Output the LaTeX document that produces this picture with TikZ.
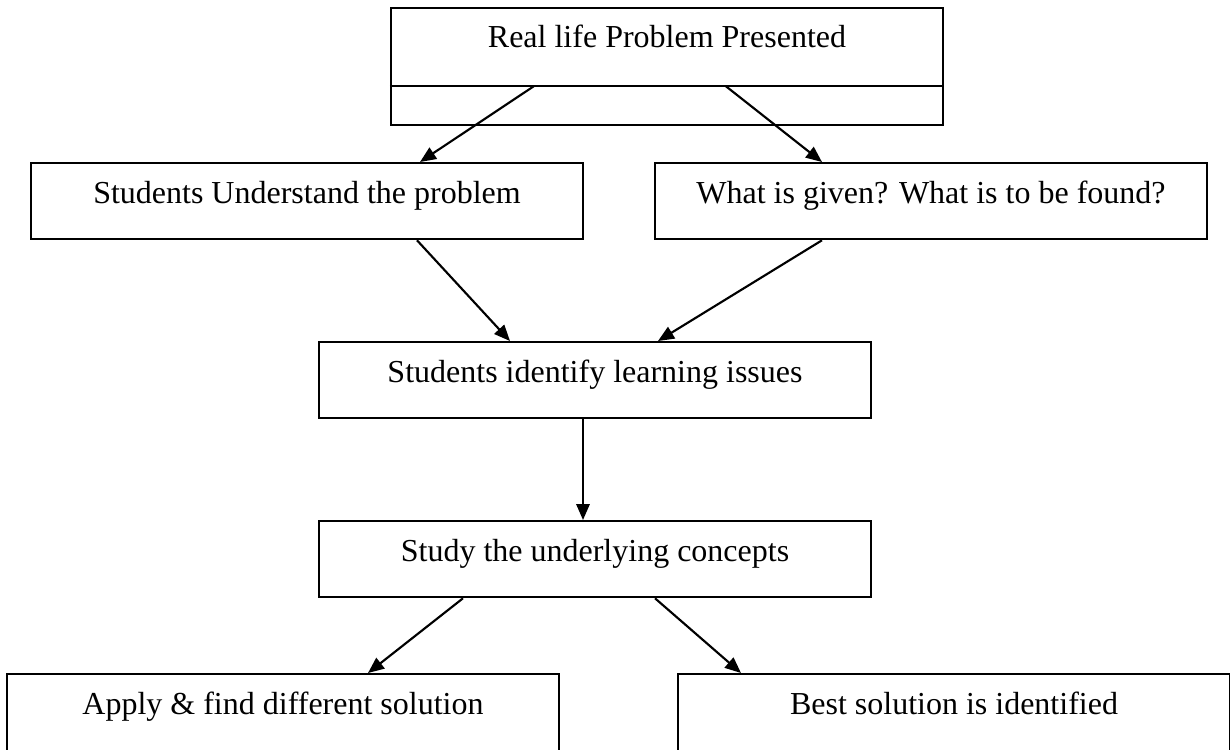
\documentclass[tikz,border=0pt]{standalone}
\usepackage{fontspec}
\setmainfont{Liberation Serif}
\usetikzlibrary{arrows.meta,calc}
\tikzset{
	box/.style={shape=rectangle,draw=black,line width=0.85pt,minimum width=207pt,inner sep=0pt,anchor=north,text height=15pt,text depth=13.5pt,font=\fontsize{12pt}{14pt}\selectfont},
	arrow/.style={draw=black,line width=0.8pt,-{Triangle[length=6pt,width=5pt]}}
}
\begin{document}
\begin{tikzpicture}[x=0.375pt,y=-0.375pt]
	\useasboundingbox (0,0) rectangle (1230,749);
	\clip (0,0) rectangle (1230,749);
	\node[box,text height=14.6pt,text depth=29.25pt] (P) at (667,7) {Real life Problem Presented};
	\node[box] (U) at (307,162) {Students Understand the problem};
	\node[box] (G) at (931,162) {What is given? What is to be found?};
	\node[box] (I) at (595,341) {Students identify learning issues};
	\node[box] (S) at (595,520) {Study the underlying concepts};
	\node[box,text depth=15pt] (A) at (283,673) {Apply \& find different solution};
	\node[box,text depth=15pt] (B) at (954,673) {Best solution is identified};
	
	\coordinate (PL) at ($(P.south west)+(0,-40)$);
	\coordinate (PR) at ($(P.south east)+(0,-40)$);
	\coordinate (P1) at ($(PL)+(144,0)$);
	\coordinate (P2) at ($(PL)+(336,0)$);
	\draw[line width=0.85pt] (PL) -- (PR);
	
	\path (P1) edge[arrow] ($(U.north)+(113,0)$);
	\path (P2) edge[arrow] ($(G.north)+(-109,0)$);
	\path ($(U.south)+(110,0)$) edge[arrow] ($(I.north)+(-85,0)$);
	\path ($(G.south)+(-109,0)$) edge[arrow] ($(I.north)+(63,0)$);
	\path ($(I.south)+(-12,0)$) edge[arrow] ($(S.north)+(-12,0)$);
	\path ($(S.south)+(-132,0)$) edge[arrow] ($(A.north)+(85,0)$);
	\path ($(S.south)+(60,0)$) edge[arrow] ($(B.north)+(-213,0)$);
\end{tikzpicture}
\end{document}
